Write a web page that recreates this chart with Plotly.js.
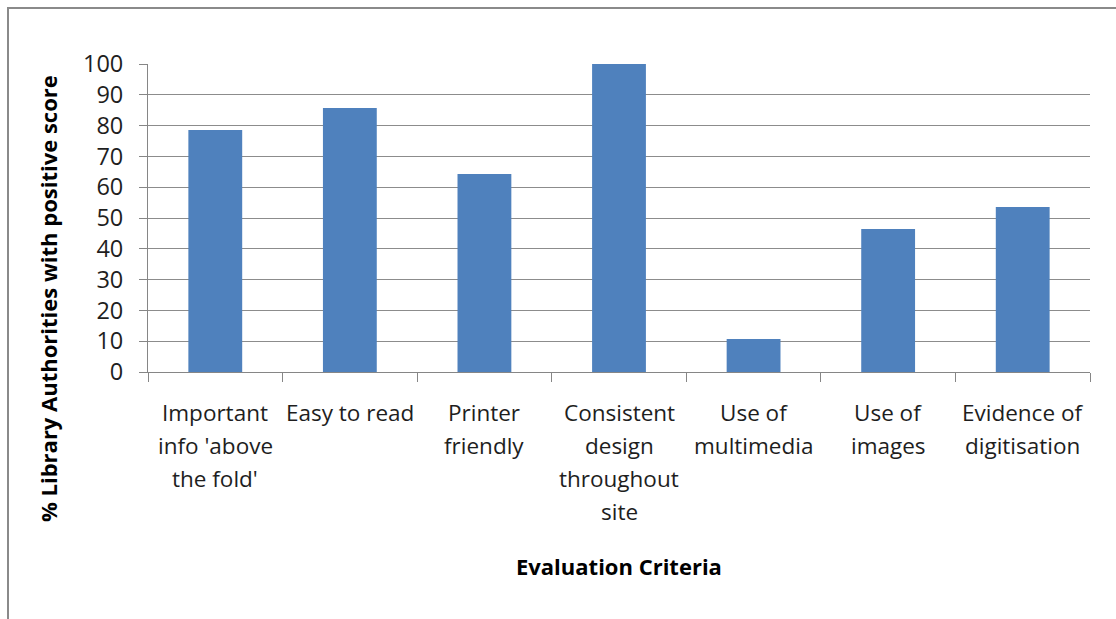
<!DOCTYPE html>
<html>
<head>
<meta charset="utf-8">
<script src="https://cdn.plot.ly/plotly-3.0.1.min.js"></script>
<style>
  html, body { margin: 0; padding: 0; background: #fff; }
  #wrap { position: relative; width: 1116px; height: 619px; overflow: hidden; }
  #chart { position: absolute; left: 0; top: 0; width: 1116px; height: 619px; }
  #frame { position: absolute; left: 7px; top: 7px; width: 1120px; height: 620px;
           border-top: 2px solid #8a8a8a; border-left: 2px solid #8a8a8a; pointer-events: none; }
</style>
</head>
<body>
<div id="wrap">
  <div id="chart"></div>
  <div id="frame"></div>
</div>
<script>
// Data
const categories = [
  "Important info 'above the fold'",
  "Easy to read",
  "Printer friendly",
  "Consistent design throughout site",
  "Use of multimedia",
  "Use of images",
  "Evidence of digitisation"
];
const labelLines = [
  ["Important", "info 'above", "the fold'"],
  ["Easy to read"],
  ["Printer", "friendly"],
  ["Consistent", "design", "throughout", "site"],
  ["Use of", "multimedia"],
  ["Use of", "images"],
  ["Evidence of", "digitisation"]
];
const values = [78.6, 85.7, 64.3, 100, 10.7, 46.4, 53.6];
const yTicks = [0, 10, 20, 30, 40, 50, 60, 70, 80, 90, 100];
const xTitle = "Evaluation Criteria";
const yTitle = "% Library Authorities with positive score";

const FONT = "'Open Sans', sans-serif";
const annotations = [];
labelLines.forEach((lines, i) => {
  lines.forEach((ln, j) => {
    annotations.push({
      x: categories[i], xref: 'x', y: 0, yref: 'paper',
      yanchor: 'middle', xanchor: 'center',
      yshift: -(40 + 33 * j),
      text: ln, showarrow: false,
      font: {family: FONT, size: 22.5, color: '#1e1e1e'}
    });
  });
});
annotations.push({
  x: 0.5, xref: 'paper', y: 0, yref: 'paper', yanchor: 'middle', yshift: -194,
  text: '<b>' + xTitle + '</b>', showarrow: false,
  font: {family: FONT, size: 22, color: '#000'}
});
annotations.push({
  x: 0, xref: 'paper', xshift: -100, y: 0, yref: 'paper', yshift: 73,
  yanchor: 'middle', xanchor: 'center', textangle: -90,
  text: '<b>' + yTitle + '</b>', showarrow: false,
  font: {family: FONT, size: 22, color: '#000'}
});

const trace = {
  type: 'bar',
  x: categories,
  y: values,
  marker: {color: '#4f81bd'},
  hoverinfo: 'x+y'
};

const layout = {
  width: 1116, height: 619,
  margin: {l: 148, r: 26, t: 64, b: 247, pad: 0},
  paper_bgcolor: '#fff', plot_bgcolor: '#fff',
  showlegend: false,
  bargap: 0.6,
  font: {family: FONT, size: 22, color: '#1e1e1e'},
  xaxis: {
    type: 'category',
    showticklabels: false,
    ticks: 'outside', tickson: 'boundaries', ticklen: 9, tickwidth: 1, tickcolor: '#868686',
    showline: true, linecolor: '#868686', linewidth: 1,
    showgrid: false, zeroline: false
  },
  yaxis: {
    range: [0, 100],
    tickvals: yTicks,
    ticktext: yTicks.map(String),
    ticks: 'outside', ticklen: 8, tickwidth: 1, tickcolor: '#868686',
    ticklabelstandoff: 11,
    tickfont: {family: FONT, size: 23.5, color: '#1e1e1e'},
    showline: true, linecolor: '#868686', linewidth: 1,
    showgrid: true, gridcolor: '#8c8c8c', gridwidth: 1,
    zeroline: false
  },
  annotations: annotations
};

Plotly.newPlot('chart', [trace], layout, {displayModeBar: false, staticPlot: true});
</script>
</body>
</html>
